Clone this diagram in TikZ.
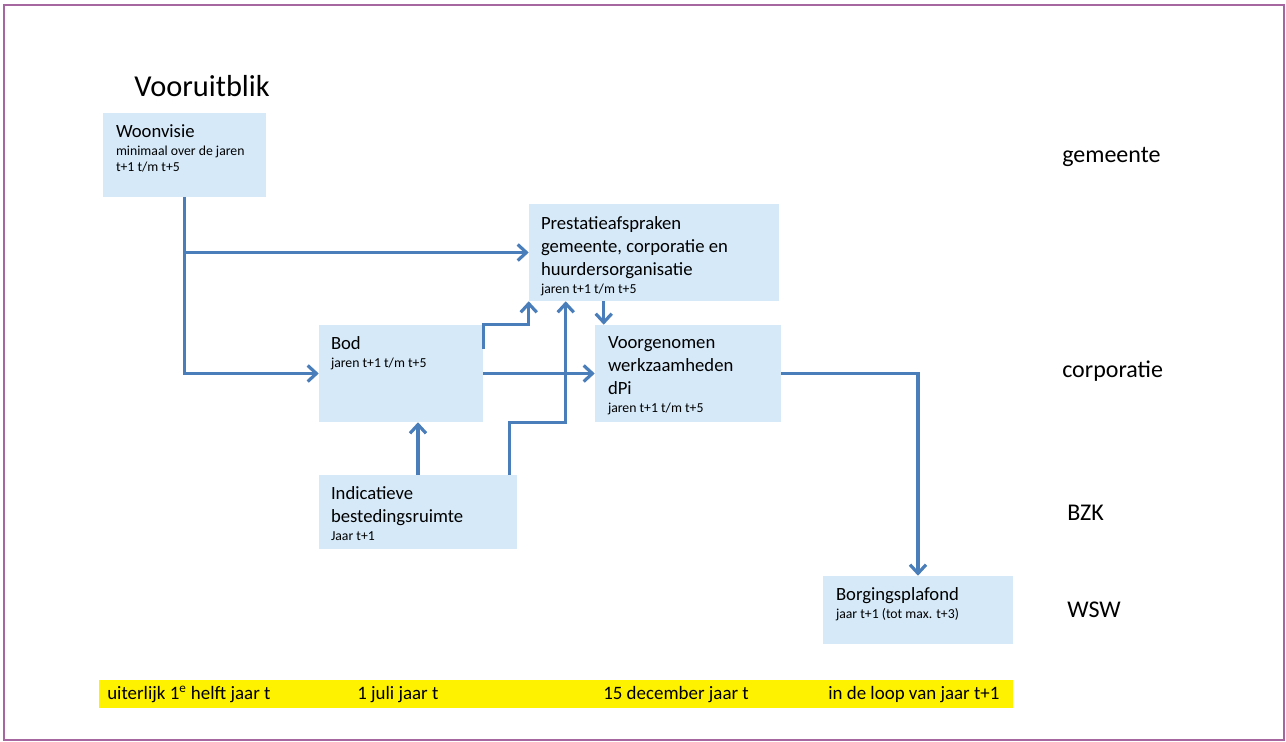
\documentclass[tikz,border=0pt]{standalone}
\usepackage{fontspec}
\setmainfont{Carlito}
\usepackage{tikz}
\usetikzlibrary{arrows.meta, positioning, fit, calc}

\definecolor{vakblauw}{RGB}{213,233,248}
\definecolor{pijlblauw}{RGB}{74,126,187}
\definecolor{randpaars}{RGB}{166,102,160}
\newcommand{\klein}{\fontsize{10.3}{12}\selectfont}

\begin{document}
\begin{tikzpicture}[x=0.75pt, y=-0.75pt,
    vak/.style={fill=vakblauw, draw=none, inner sep=0pt},
    tekst/.style={anchor=north west, inner sep=0pt, align=left, font=\fontsize{14}{17}\selectfont},
    rol/.style={anchor=base west, inner sep=0pt, font=\fontsize{18}{22}\selectfont},
    datum/.style={anchor=base west, inner sep=0pt, font=\fontsize{14.2}{17}\selectfont},
    pijl/.style={draw=pijlblauw, line width=2.4pt, -{Straight Barb[length=6.5pt, width=12pt]}}]
    \useasboundingbox (0,0) rectangle (1286,742);
    \draw[randpaars, line width=1.6pt] (4,5) rectangle (1284,740);

    \node[anchor=base west, inner sep=0pt, font=\fontsize{22.8}{27}\selectfont] (titel) at (134,97) {Vooruitblik};

    % blokken
    \node[vak, fit={(103,113) (266,197)}] (woon) {};
    \node[vak, fit={(529,204) (779,301)}] (pres) {};
    \node[vak, fit={(319,325) (483,422)}] (bod) {};
    \node[vak, fit={(595,325) (781,422)}] (voor) {};
    \node[vak, fit={(319,475) (517,549)}] (ind) {};
    \node[vak, fit={(823,576) (1013,644)}] (borg) {};

    \node[tekst] (woon-t) at ([shift={(13,12)}]woon.north west) {Woonvisie\\[-3.5pt]{\klein minimaal over de jaren}\\[-5pt]{\klein t+1 t/m t+5}};
    \node[tekst] (pres-t) at ([shift={(12,13)}]pres.north west) {Prestatieafspraken\\gemeente, corporatie en\\huurdersorganisatie\\[-3pt]{\klein jaren t+1 t/m t+5}};
    \node[tekst] (bod-t) at ([shift={(12,12)}]bod.north west) {Bod\\[-3.5pt]{\klein jaren t+1 t/m t+5}};
    \node[tekst] (voor-t) at ([shift={(13,12)}]voor.north west) {Voorgenomen\\werkzaamheden\\dPi\\[-3pt]{\klein jaren t+1 t/m t+5}};
    \node[tekst] (ind-t) at ([shift={(12,12)}]ind.north west) {Indicatieve\\bestedingsruimte\\[-3.5pt]{\klein Jaar t+1}};
    \node[tekst] (borg-t) at ([shift={(13,12)}]borg.north west) {Borgingsplafond\\[-3.5pt]{\klein jaar t+1 (tot max. t+3)}};

    % partijen
    \node[rol] (gem) at (1062,162) {gemeente};
    \node[rol] (corp) at (1062,377) {corporatie};
    \node[rol] (bzk) at (1067,520) {BZK};
    \node[rol] (wsw) at (1067,617) {WSW};

    % tijdlijn
    \node[fill=yellow, inner sep=0pt, fit={(99,680) (1013,708)}] (balk) {};
    \node[datum] (d1) at (107,699) {uiterlijk 1\textsuperscript{e} helft jaar t};
    \node[datum] (d2) at (357,699) {1 juli jaar t};
    \node[datum] (d3) at (603,699) {15 december jaar t};
    \node[datum] (d4) at (828,699) {in de loop van jaar t+1};

    % pijlen
    \coordinate (ind-uit) at ([shift={(-8,0)}]ind.north east);
    \coordinate (pres-in) at ([shift={(37,0)}]pres.south west);
    \coordinate (voor-in) at ([shift={(9,0)}]voor.north west);
    \draw[pijl] (woon.south) |- (bod.west);
    \draw[pijl] (woon.south |- pres.west) -- (pres.west);
    \draw[pijl] ([shift={(0,24)}]bod.north east) -- (bod.north east) -| (pres.south west);
    \draw[pijl] (ind-uit) |- (pres-in |- bod.south) -- (pres-in);
    \draw[pijl] (voor-in |- pres.south) -- (voor-in);
    \draw[pijl] (ind.north) -- (ind.north |- bod.south);
    \draw[pijl] (bod.east) -- (voor.west);
    \draw[pijl] (voor.east) -| (borg.north);
\end{tikzpicture}
\end{document}
